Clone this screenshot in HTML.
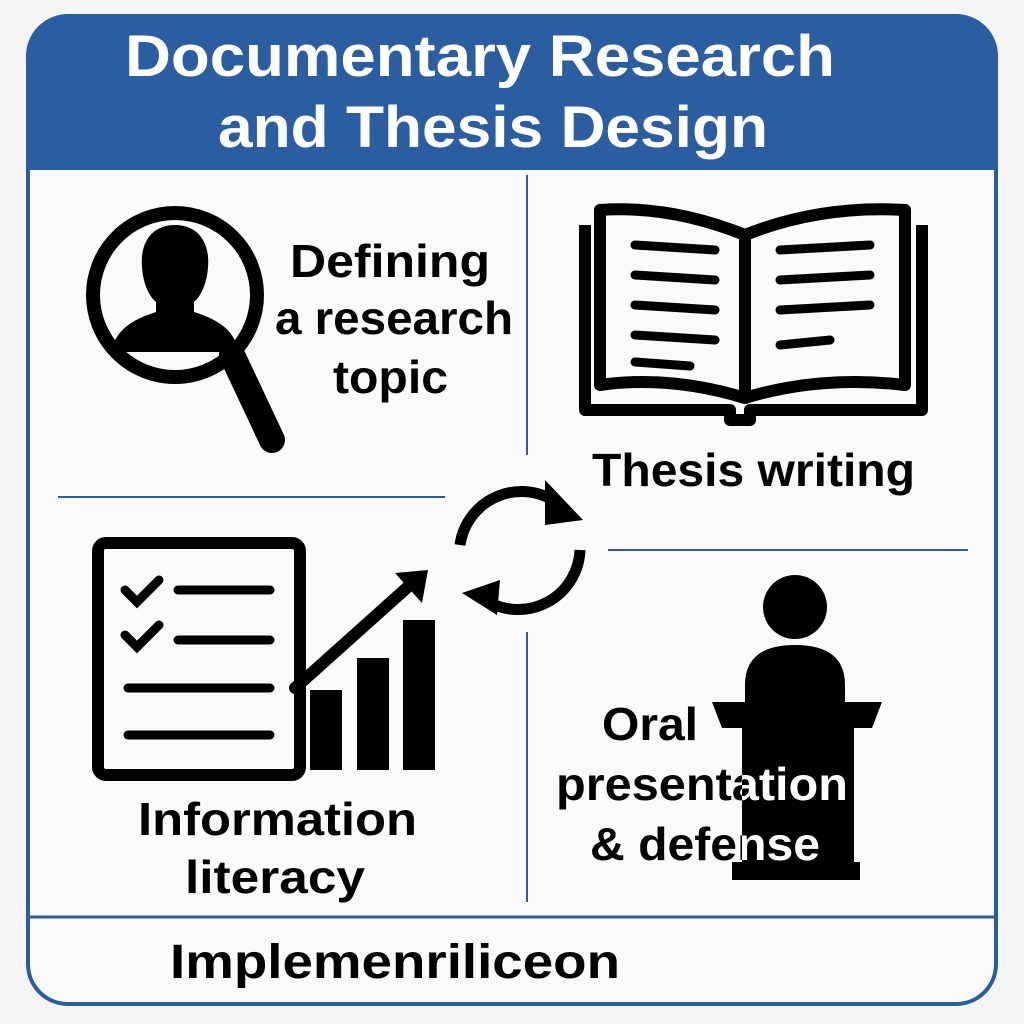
<!DOCTYPE html>
<html><head><style>
html,body{margin:0;padding:0;background:#f5f5f5;}
svg{display:block}
text{font-family:"Liberation Sans",sans-serif;font-weight:bold;}
</style></head><body>
<svg width="1024" height="1024" viewBox="0 0 1024 1024">
<rect x="0" y="0" width="1024" height="1024" fill="#f5f5f5"/>
<rect x="28" y="16" width="968" height="988" rx="40" fill="#fafafa" stroke="#2a5ea0" stroke-width="4"/>
<path d="M28 170 V56 A40 40 0 0 1 68 16 H956 A40 40 0 0 1 996 56 V170 Z" fill="#2a5ea0"/>
<text x="125" y="76" fill="#fff" font-size="58" textLength="710" lengthAdjust="spacingAndGlyphs">Documentary Research</text>
<text x="218" y="147" fill="#fff" font-size="58" textLength="550" lengthAdjust="spacingAndGlyphs">and Thesis Design</text>
<g stroke="#2a5ea0" stroke-width="2">
<line x1="527" y1="175" x2="527" y2="455"/>
<line x1="527" y1="632" x2="527" y2="902"/>
<line x1="58" y1="497" x2="445" y2="497"/>
<line x1="608" y1="550" x2="968" y2="550"/>
</g>
<line x1="28" y1="917" x2="996" y2="917" stroke="#2a5ea0" stroke-width="3"/>
<!-- magnifier -->
<clipPath id="c"><circle cx="175" cy="295" r="76"/></clipPath>
<path clip-path="url(#c)" d="M175 225 c-25 0 -35 20 -33 42 c1 15 6 28 14 35 v10 c-25 8 -40 18 -45 40 h128 c-5 -22 -20 -32 -45 -40 v-10 c8 -7 13 -20 14 -35 c2 -22 -8 -42 -33 -42z" fill="#000"/>
<circle cx="175" cy="295" r="82" fill="none" stroke="#000" stroke-width="14"/>
<line x1="232" y1="355" x2="272" y2="440" stroke="#000" stroke-width="26" stroke-linecap="round"/>
<text x="290" y="277" font-size="46" textLength="200" lengthAdjust="spacingAndGlyphs">Defining</text>
<text x="275" y="334" font-size="46" textLength="238" lengthAdjust="spacingAndGlyphs">a research</text>
<text x="333" y="393" font-size="46" textLength="115" lengthAdjust="spacingAndGlyphs">topic</text>
<!-- book -->
<g fill="none" stroke="#000" stroke-width="12" stroke-linejoin="round">
<path d="M585 225 V410 H730 V420 H750 V410 H922 V225"/>
<path d="M600 210 Q670 205 745 235 V398 Q670 375 600 385 Z"/>
<path d="M745 235 Q820 205 905 210 V385 Q820 375 745 398"/>
</g>
<g stroke="#000" stroke-width="9" stroke-linecap="round">
<line x1="635" y1="245" x2="715" y2="250"/><line x1="635" y1="275" x2="715" y2="280"/>
<line x1="635" y1="305" x2="715" y2="310"/><line x1="635" y1="335" x2="715" y2="340"/>
<line x1="635" y1="362" x2="690" y2="366"/>
<line x1="780" y1="250" x2="870" y2="245"/><line x1="780" y1="280" x2="870" y2="275"/>
<line x1="780" y1="310" x2="870" y2="305"/><line x1="780" y1="345" x2="830" y2="340"/>
</g>
<text x="592" y="486" font-size="46" textLength="323" lengthAdjust="spacingAndGlyphs">Thesis writing</text>
<!-- cycle arrows -->
<g fill="none" stroke="#000" stroke-width="11">
<path d="M460 545 A62 62 0 0 1 560 505"/>
<path d="M580 550 A62 62 0 0 1 485 600"/>
</g>
<polygon points="545,480 583,520 545,525" fill="#000"/>
<polygon points="500,580 462,593 497,615" fill="#000"/>
<!-- checklist -->
<rect x="98" y="543" width="202" height="232" rx="8" fill="none" stroke="#000" stroke-width="12"/>
<g stroke="#000" stroke-width="9" stroke-linecap="round" fill="none">
<path d="M125 590 l12 12 l22 -22"/><line x1="178" y1="590" x2="270" y2="590"/>
<path d="M125 635 l12 12 l22 -22"/><line x1="178" y1="640" x2="270" y2="640"/>
<line x1="128" y1="688" x2="270" y2="688"/><line x1="128" y1="735" x2="270" y2="735"/>
<line x1="295" y1="688" x2="410" y2="585" stroke-width="12"/>
</g>
<polygon points="395,573 428,570 422,603" fill="#000"/>
<rect x="310" y="690" width="32" height="80" fill="#000"/>
<rect x="357" y="658" width="32" height="112" fill="#000"/>
<rect x="403" y="620" width="32" height="150" fill="#000"/>
<text x="138" y="835" font-size="46" textLength="279" lengthAdjust="spacingAndGlyphs">Information</text>
<text x="185" y="893" font-size="46" textLength="180" lengthAdjust="spacingAndGlyphs">literacy</text>
<!-- podium -->
<circle cx="795" cy="607" r="32" fill="#000"/>
<path d="M745 685 q0 -40 50 -40 q50 0 50 40 v20 h-100z" fill="#000"/>
<clipPath id="pod">
<polygon points="712,702 882,702 872,728 722,728"/>
<rect x="742" y="728" width="112" height="140"/>
<rect x="732" y="862" width="128" height="18"/>
</clipPath>
<g clip-path="url(#pod)"><rect x="700" y="700" width="200" height="200" fill="#000"/></g>
<g fill="#000">
<text x="602" y="740" font-size="46" textLength="96" lengthAdjust="spacingAndGlyphs">Oral</text>
<text x="556" y="800" font-size="46" textLength="292" lengthAdjust="spacingAndGlyphs">presentation</text>
<text x="590" y="860" font-size="46" textLength="230" lengthAdjust="spacingAndGlyphs">&amp; defense</text>
</g>
<g fill="#fff" clip-path="url(#pod)">
<text x="556" y="800" font-size="46" textLength="292" lengthAdjust="spacingAndGlyphs">presentation</text>
<text x="590" y="860" font-size="46" textLength="230" lengthAdjust="spacingAndGlyphs">&amp; defense</text>
</g>
<text x="170" y="978" font-size="48" textLength="450" lengthAdjust="spacingAndGlyphs">Implemenriliceon</text>
</svg>
</body></html>
